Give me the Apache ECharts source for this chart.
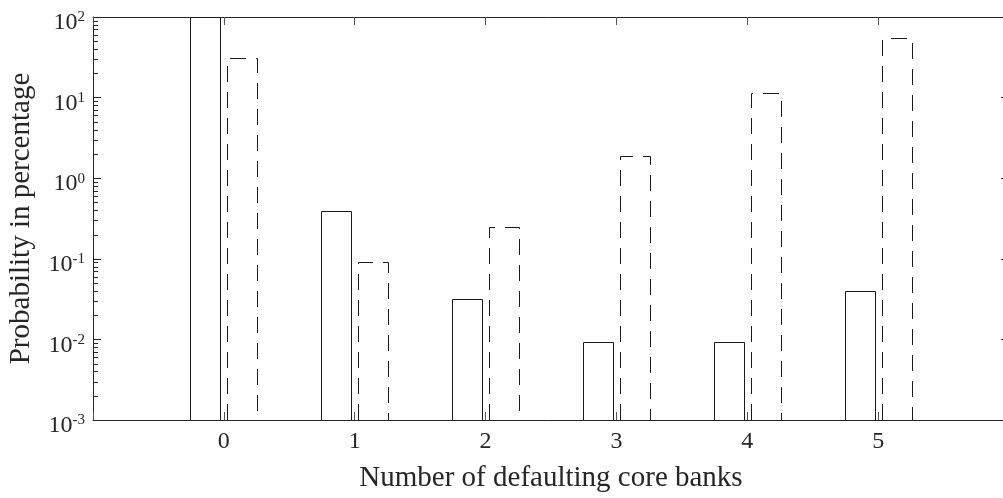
<!DOCTYPE html>
<html><head><meta charset="utf-8">
<script src="https://cdn.jsdelivr.net/npm/echarts@6/dist/echarts.min.js"></script>
<style>html,body{margin:0;padding:0;background:#fff}#c{width:1003px;height:498px}</style>
</head><body><div id="c"></div>
<script>
// ---- data ----
const categories = [0, 1, 2, 3, 4, 5];
const solidValues = [100, 0.39, 0.032, 0.0094, 0.0094, 0.040];
const dashedValues = [31, 0.090, 0.25, 1.88, 11.3, 55];
const yMin = 0.001, yMax = 100;
const xMin = -1, xMax = 6;
const minorMultipliers = [2, 3, 4, 5, 6, 7, 8, 9];
const decades = [0.001, 0.01, 0.1, 1, 10];
const xTitle = 'Number of defaulting core banks';
const yTitle = 'Probability in percentage';

// ---- styles ----
const FONT = "'Liberation Serif','Times New Roman',serif";
const INK = '#262626';
const BAR_W = 30;
const BAR_OFF = 18.5;

function barSeries(values, offset, dashed) {
  return {
    type: 'custom', xAxisIndex: 0, yAxisIndex: 0, clip: true, z: 3,
    data: categories.map((c, i) => [c, values[i]]),
    encode: { x: 0, y: 1 },
    renderItem(params, api) {
      const top = api.coord([api.value(0), api.value(1)]);
      const base = api.coord([api.value(0), yMin]);
      const xl = Math.round(top[0] + offset - BAR_W / 2) + 0.5;
      const xr = xl + BAR_W;
      const yt = Math.round(top[1]) + 0.5;
      const yb = Math.round(base[1]);
      return {
        type: 'polyline',
        shape: { points: [[xl, yb], [xl, yt], [xr, yt], [xr, yb]] },
        style: { fill: null, stroke: '#1a1a1a', lineWidth: 1, lineDash: dashed ? [16, 10] : null }
      };
    }
  };
}

const minorData = [];
decades.forEach(d => minorMultipliers.forEach(m => minorData.push([xMin, d * m])));

const minorSeries = {
  type: 'custom', xAxisIndex: 0, yAxisIndex: 0, clip: false, z: 2, silent: true,
  data: minorData, encode: { x: 0, y: 1 },
  renderItem(params, api) {
    const p = api.coord([xMin, api.value(1)]);
    const q = api.coord([xMax, api.value(1)]);
    const y = Math.round(p[1]) + 0.5;
    return {
      type: 'group', children: [
        { type: 'line', shape: { x1: p[0], y1: y, x2: p[0] + 5, y2: y }, style: { stroke: INK, lineWidth: 1 } },
        { type: 'line', shape: { x1: q[0] - 5, y1: y, x2: q[0], y2: y }, style: { stroke: INK, lineWidth: 1 } }
      ]
    };
  }
};

function expLabel(v) {
  const e = Math.round(Math.log10(v));
  return '{b|10}{s|' + e + '}';
}

const yAxisBase = {
  type: 'log', logBase: 10, min: yMin, max: yMax,
  axisLine: { show: true, onZero: false, lineStyle: { color: INK, width: 1 } },
  axisTick: { show: true, inside: true, length: 8, lineStyle: { color: INK } },
  splitLine: { show: false }
};

const option = {
  backgroundColor: '#fff',
  animation: false,
  grid: { left: 93, top: 17, width: 916, height: 403, containLabel: false, outerBoundsMode: 'none' },
  xAxis: [
    {
      type: 'value', min: xMin, max: xMax, interval: 1, position: 'bottom',
      axisLine: { show: true, onZero: false, lineStyle: { color: INK } },
      axisTick: { show: true, inside: true, length: 8, lineStyle: { color: '#555' } },
      axisLabel: {
        margin: 10, color: INK, fontFamily: FONT, fontSize: 24,
        formatter: v => (v >= categories[0] && v <= categories[categories.length - 1]) ? String(v) : ''
      },
      splitLine: { show: false },
      name: xTitle, nameLocation: 'middle', nameGap: 44,
      nameTextStyle: { color: INK, fontFamily: FONT, fontSize: 29 }
    },
    {
      type: 'value', min: xMin, max: xMax, interval: 1, position: 'top',
      axisLine: { show: true, onZero: false, lineStyle: { color: INK } },
      axisTick: { show: true, inside: true, length: 8, lineStyle: { color: '#555' } },
      axisLabel: { show: false }, splitLine: { show: false }
    }
  ],
  yAxis: [
    Object.assign({}, yAxisBase, {
      position: 'left',
      axisLabel: {
        margin: 8, color: INK, fontFamily: FONT, formatter: expLabel,
        rich: {
          b: { fontSize: 24, fontFamily: FONT, color: INK, verticalAlign: 'bottom', padding: [12, 0, 0, 0] },
          s: { fontSize: 15, fontFamily: FONT, color: INK, verticalAlign: 'bottom', padding: [0, 0, 10, 0] }
        }
      },
      name: yTitle, nameLocation: 'middle', nameGap: 57,
      nameTextStyle: { color: INK, fontFamily: FONT, fontSize: 29 }
    }),
    Object.assign({}, yAxisBase, { position: 'right', axisLabel: { show: false } })
  ],
  series: [
    minorSeries,
    barSeries(solidValues, -BAR_OFF, false),
    barSeries(dashedValues, BAR_OFF, true)
  ]
};

const chart = echarts.init(document.getElementById('c'), null, { renderer: 'canvas' });
chart.setOption(option);
</script>
</body></html>
